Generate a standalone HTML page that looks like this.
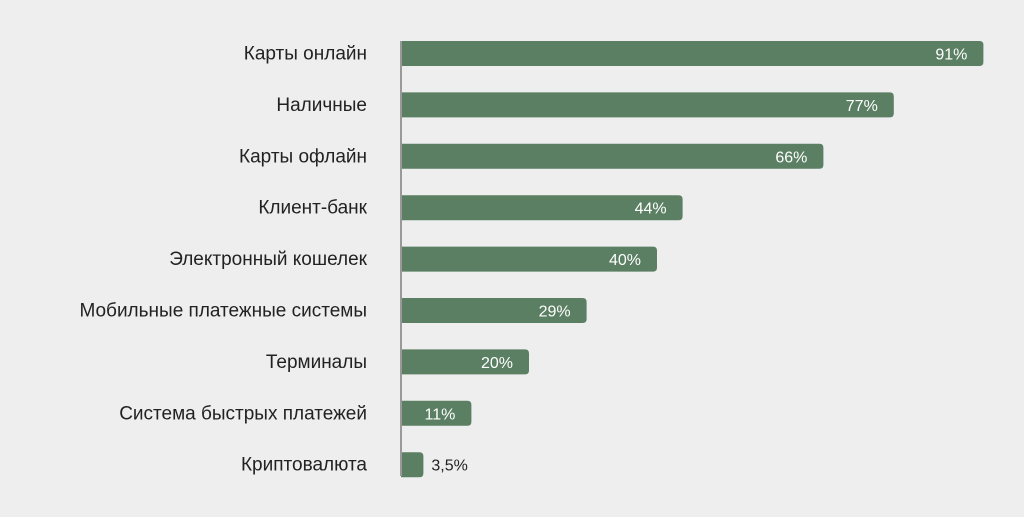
<!DOCTYPE html>
<html><head><meta charset="utf-8"><style>
html,body{margin:0;padding:0;background:#eeeeee;}
svg{display:block;font-family:"Liberation Sans",sans-serif;}
</style></head><body>
<svg id="chart" width="1024" height="517"></svg>
<script>
const categories=["Карты онлайн","Наличные","Карты офлайн","Клиент-банк","Электронный кошелек","Мобильные платежные системы","Терминалы","Система быстрых платежей","Криптовалюта"];
const values=[91,77,66,44,40,29,20,11,3.5];
const valueLabels=["91%","77%","66%","44%","40%","29%","20%","11%","3,5%"];
const NS="http://www.w3.org/2000/svg";
const svg=document.getElementById('chart');
const x0=401,pxPer=6.4,top0=41,pitch=51.4,bh=25;
const xs=v=>x0+v*pxPer;
const ys=i=>top0+i*pitch;
function mk(t,a){const e=document.createElementNS(NS,t);for(const k in a)e.setAttribute(k,a[k]);svg.appendChild(e);return e;}
categories.forEach((c,i)=>{
  const y=ys(i),w=xs(values[i])-x0;
  const b=mk('path',{d:`M${x0},${y}H${x0+w-4}Q${x0+w},${y} ${x0+w},${y+4}V${y+bh-4}Q${x0+w},${y+bh} ${x0+w-4},${y+bh}H${x0}Z`,fill:'#5a7f62'});
  
  
  const l=mk('text',{x:367,y:y+bh/2+6,'text-anchor':'end','font-size':'19',fill:'#222'});
  l.textContent=c;
  
  
  const inside=w>50;
  const v=mk('text',{x:inside?x0+w-16:x0+w+8,y:y+bh/2+6,'text-anchor':inside?'end':'start','font-size':'16',fill:inside?'#ffffff':'#222'});
  v.textContent=valueLabels[i];
  
  
});
const ax=mk('line',{x1:x0,y1:41,x2:x0,y2:476,stroke:'#999','stroke-width':'2'});


</script>
</body></html>
